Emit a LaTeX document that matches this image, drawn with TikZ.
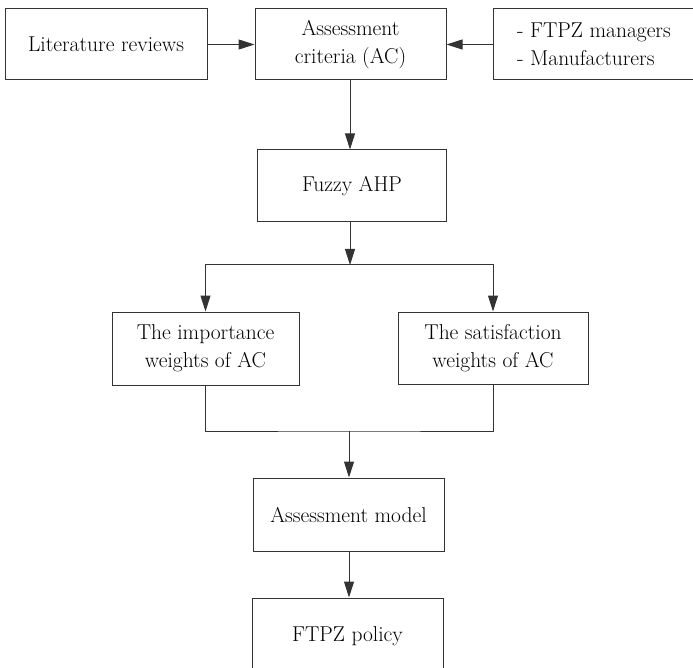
\documentclass[tikz,border=0pt]{standalone}
\usepackage{fontspec}
\usetikzlibrary{arrows.meta,positioning}

\begin{document}
\begin{tikzpicture}[x=1pt, y=-1pt, >={Triangle[length=16pt,width=10pt]}]
\tikzset{
  stage/.style = {rectangle, draw=black!80, line width=1pt, align=center, inner sep=0pt,
                  font=\fontsize{21.5}{28}\selectfont, text=black, minimum height=71pt},
  flow/.style  = {draw=black!80, line width=1pt}
}
\useasboundingbox (0,0) rectangle (693,668);

% Top row
\node[stage, minimum width=202pt] (lit) at (106,44.5) {Literature reviews};
\node[stage, minimum width=191pt] (ac) at (350.5,44.5) {Assessment\\criteria (AC)};
\node[stage, minimum width=202pt, align=left] (src) at (594,44.5) {- FTPZ managers\\- Manufacturers};

% Middle nodes
\node[stage, minimum width=189pt, minimum height=72pt] (fahp) at (352,186) {Fuzzy AHP};
\node[stage, minimum width=187pt, minimum height=73pt] (imp) at (205.5,348.5) {The importance\\weights of AC};
\node[stage, minimum width=190pt, minimum height=72pt] (sat) at (493,348) {The satisfaction\\weights of AC};

% Bottom nodes
\node[stage, minimum width=191pt, minimum height=73pt] (model) at (348.5,514.5) {Assessment model};
\node[stage, minimum width=191pt, minimum height=77pt] (policy) at (347.5,636.5) {FTPZ policy};

% Junctions
\coordinate (split) at (350,265);
\coordinate (merge) at (349,431);

% Edges
\draw[flow,->] (lit) -- (ac);
\draw[flow,->] (src) -- (ac);
\draw[flow,->] (ac.south -| split) -- (fahp.north -| split);
\draw[flow,->] (fahp.south -| split) -- (split);
\draw[flow,->] (split) -| (imp.north);
\draw[flow,->] (split) -| (sat.north);
\draw[flow] (imp.south) |- (merge) -| (sat.south);
\draw[flow,->] (merge) -- (model.north -| merge);
\draw[flow,->] (model.south -| merge) -- (policy.north -| merge);

\end{tikzpicture}
\end{document}
